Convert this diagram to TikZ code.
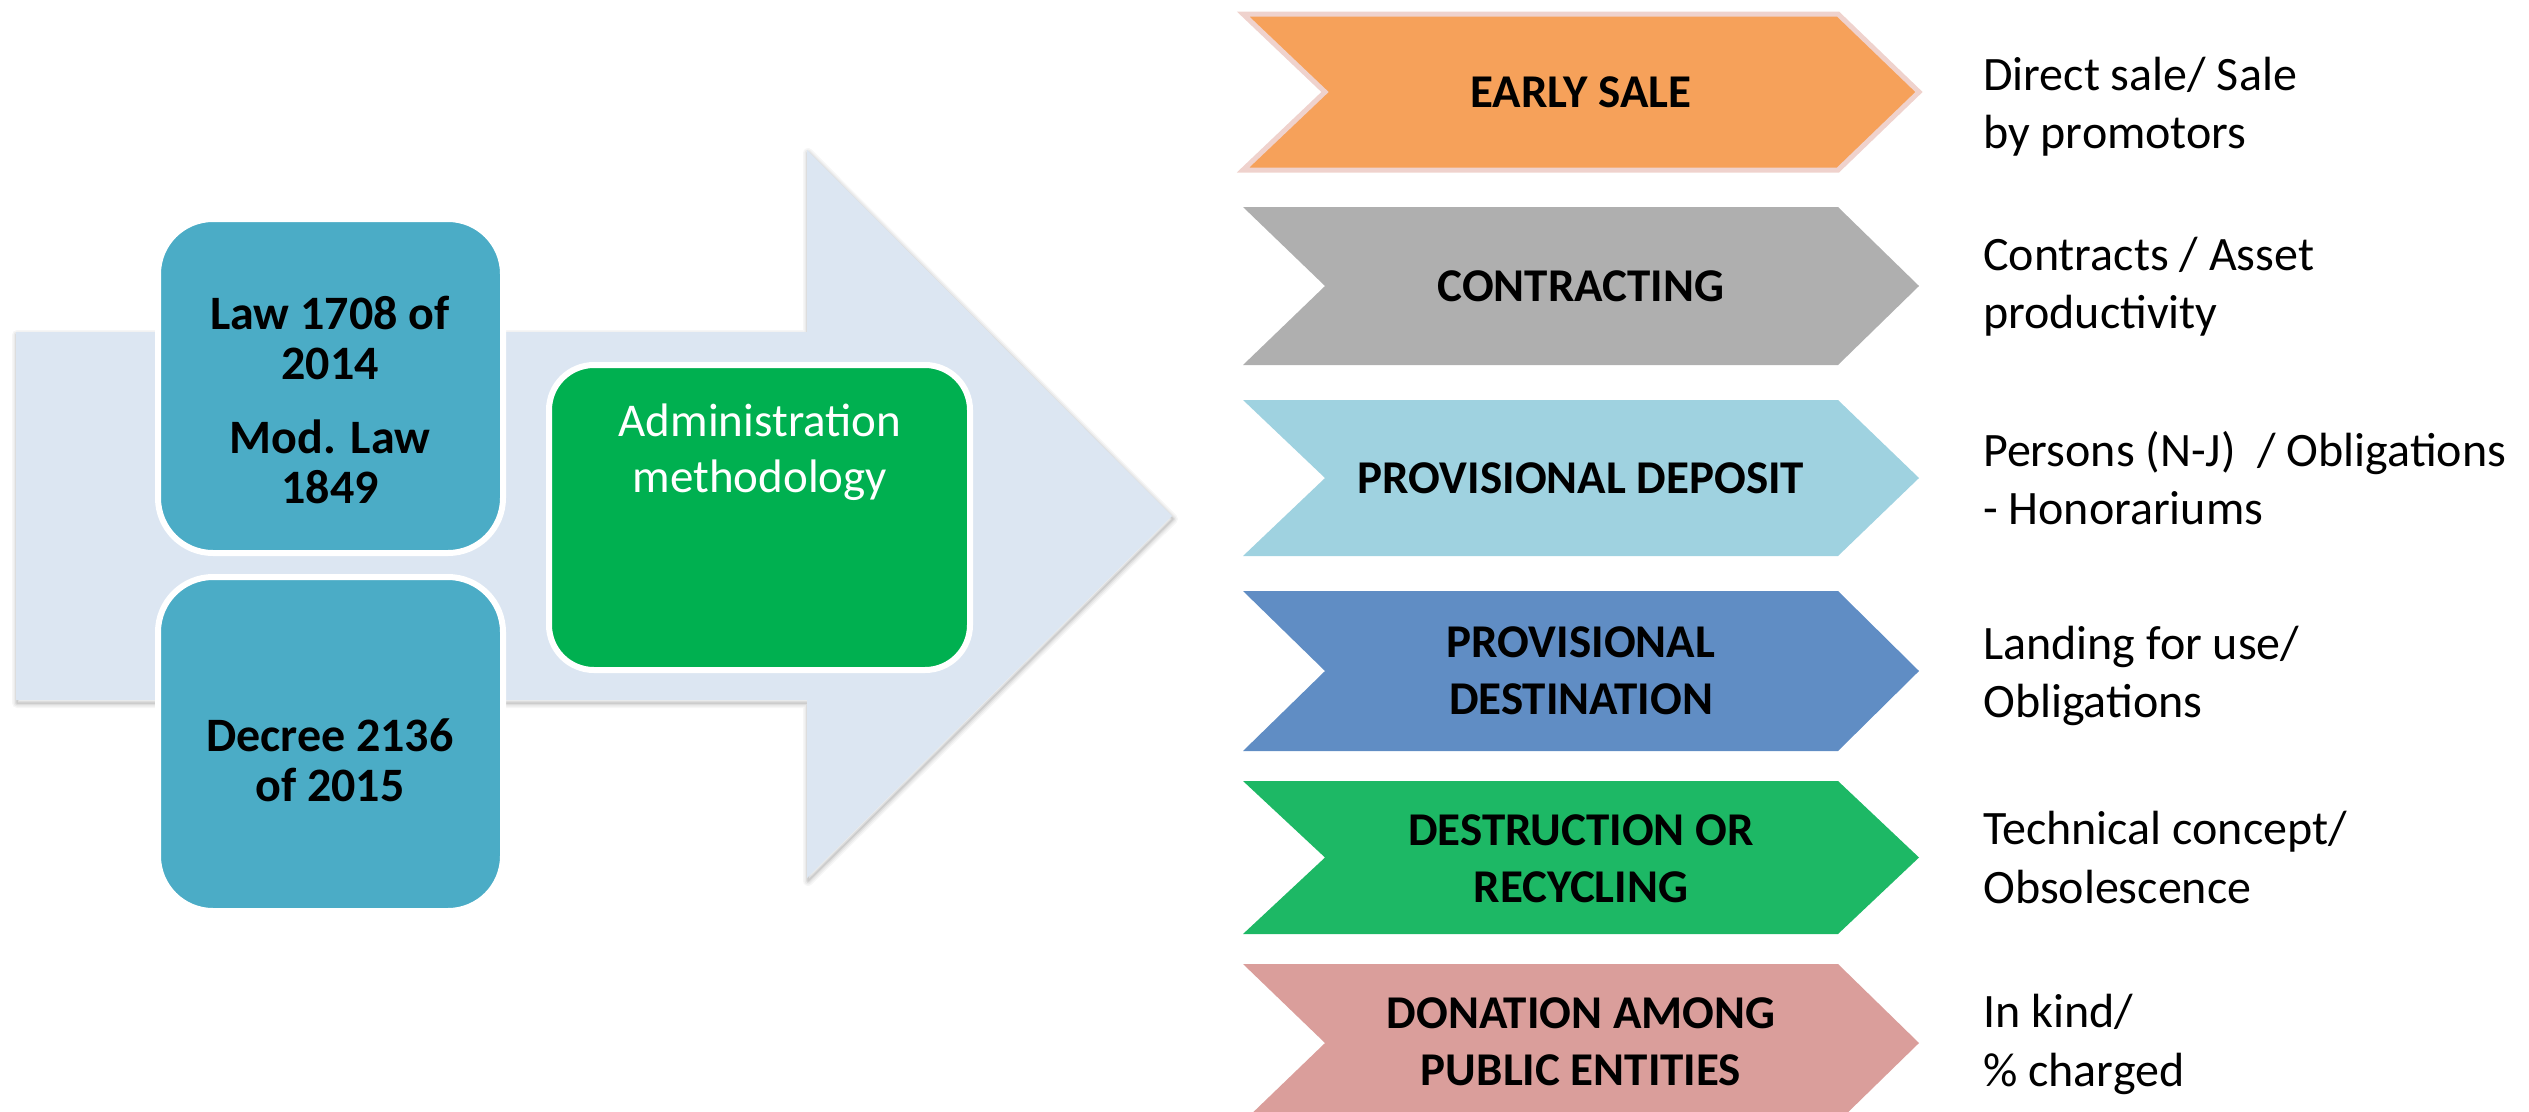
\documentclass[tikz,border=0pt]{standalone}
\usepackage{fontspec}
\setmainfont{Carlito}
\definecolor{cArrow}{HTML}{DCE6F2}
\definecolor{cTeal}{HTML}{4BACC6}
\definecolor{cGreenBox}{HTML}{00B050}
\definecolor{cOrange}{HTML}{F6A15A}
\definecolor{cOrangeRim}{HTML}{EFD2CD}
\definecolor{cGray}{HTML}{AFAFAF}
\definecolor{cLightBlue}{HTML}{9FD2E0}
\definecolor{cBlue}{HTML}{608DC4}
\definecolor{cGreen}{HTML}{1DB865}
\definecolor{cPink}{HTML}{DA9E9B}
\newcommand\chevshape[4][]{%
  \path[fill=#4,#1] (1243,#2) -- (1838,#2) -- (1919,{(#2+#3)/2}) -- (1838,#3) -- (1243,#3) -- (1325,{(#2+#3)/2}) -- cycle;}
\begin{document}
\begin{tikzpicture}[x=1pt,y=-1pt,
  lbl/.style={font=\bfseries\fontsize{47}{57}\selectfont, align=center, inner sep=0pt, text=black},
  desc/.style={font=\fontsize{48}{58}\selectfont, anchor=base west, inner sep=0pt, text=black},
  lawtxt/.style={font=\bfseries\fontsize{48}{50}\selectfont, align=center, inner sep=0pt, text=black},
  box/.style={draw=white, line width=6pt}]
\useasboundingbox (0,0) rectangle (2529,1111);
\clip (0,0) rectangle (2529,1111);

% big arrow shadow (soft)
\begin{scope}[shift={(1,3)}]
  \foreach \w/\o in {10/0.035, 7/0.045, 4/0.06, 1.5/0.08}
    \draw[line width=\w pt, black, opacity=\o, line join=round]
      (16,332) -- (807,332) -- (807,150) -- (1172,516) -- (807,878) -- (807,700) -- (16,700) -- cycle;
\end{scope}
% big arrow
\fill[cArrow] (16,332) -- (807,332) -- (807,150) -- (1172,516) -- (807,878) -- (807,700) -- (16,700) -- cycle;

% law boxes
\draw[box, fill=cTeal, rounded corners=55pt] (158,219) rectangle (503,553);
\draw[box, fill=cTeal, rounded corners=55pt] (158,577) rectangle (503,911);
\draw[box, fill=cGreenBox, rounded corners=45pt] (549,365) rectangle (970,670);

\node[lawtxt] (law) at (330,400) {Law 1708 of\\2014\\[24pt]Mod. Law\\1849};
\node[lawtxt] (decree) at (330,760) {Decree 2136\\of 2015};
\node[font=\fontsize{47}{56}\selectfont, align=center, inner sep=0pt, text=white] (admin) at (760,452) {Administration\\methodology};

% chevrons
\chevshape[draw=cOrangeRim, line width=5pt, line join=miter]{14}{170}{cOrange}
\chevshape{207}{365}{cGray}
\chevshape{400}{556}{cLightBlue}
\chevshape{591}{751}{cBlue}
\chevshape{781}{934}{cGreen}
\chevshape{964}{1122}{cPink}

\node[lbl] (early) at (1581,92) {EARLY SALE};
\node[lbl] (contr) at (1581,286) {CONTRACTING};
\node[lbl] (pdep) at (1581,478) {PROVISIONAL DEPOSIT};
\node[lbl] (pdest) at (1581,671) {PROVISIONAL\\DESTINATION};
\node[lbl] (destr) at (1581,859) {DESTRUCTION OR\\RECYCLING};
\node[lbl] (donat) at (1581,1042) {DONATION AMONG\\PUBLIC ENTITIES};

% descriptions
\node[desc] (d1a) at (1983,90) {Direct sale/ Sale};
\node[desc] (d1b) at (1983,148) {by promotors};
\node[desc] (d2a) at (1983,270) {Contracts / Asset};
\node[desc] (d2b) at (1983,328) {productivity};
\node[desc] (d3a) at (1983,466) {Persons (N-J)\ \ / Obligations};
\node[desc] (d3b) at (1983,524) {- Honorariums};
\node[desc] (d4a) at (1983,659) {Landing for use/};
\node[desc] (d4b) at (1983,717) {Obligations};
\node[desc] (d5a) at (1983,844) {Technical concept/};
\node[desc] (d5b) at (1983,903) {Obsolescence};
\node[desc] (d6a) at (1983,1027) {In kind/};
\node[desc] (d6b) at (1983,1086) {\% charged};
\end{tikzpicture}
\end{document}
